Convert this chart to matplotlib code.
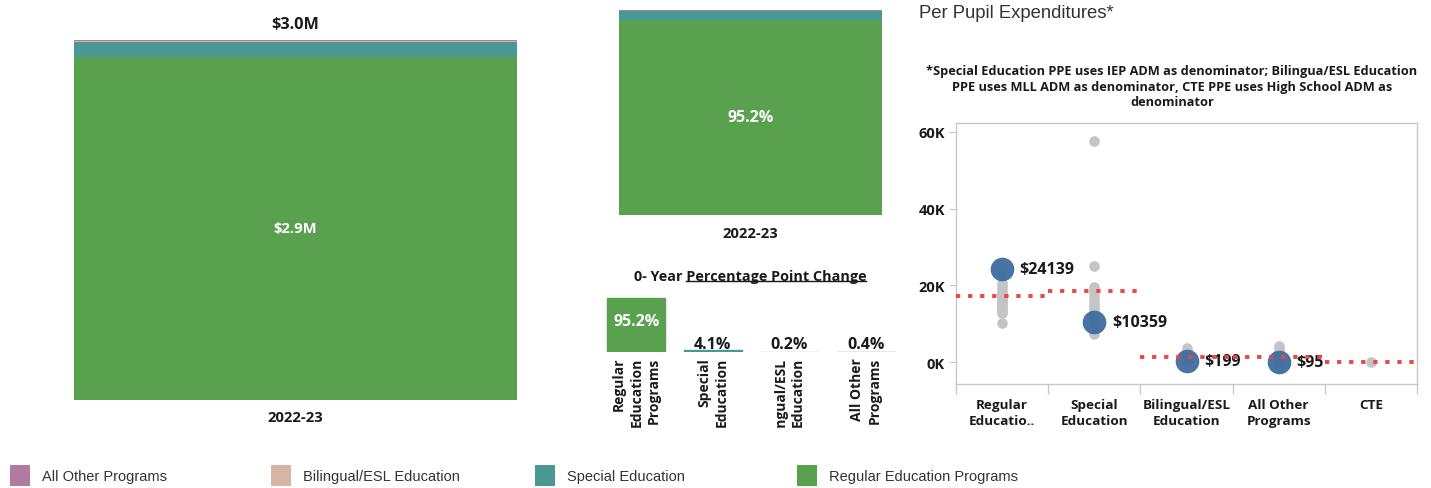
import matplotlib
matplotlib.use("Agg")
import matplotlib.pyplot as plt
from matplotlib.patches import Rectangle
from matplotlib.lines import Line2D

# ---------------- data ----------------
programs = ["Regular Education Programs", "Special Education", "Bilingual/ESL Education", "All Other Programs"]
colors = {"Regular Education Programs": "#59a14f", "Special Education": "#499894",
          "Bilingual/ESL Education": "#d7b5a6", "All Other Programs": "#b07aa1"}
year = "2022-23"
amounts = [2.866e6, 0.124e6, 0.006e6, 0.012e6]          # dollars
shares = [95.2, 4.1, 0.2, 0.4]                           # percent
total_label = "$3.0M"
regular_label = "$2.9M"
change_labels = ["Regular\nEducation\nPrograms", "Special\nEducation", "Bilingual/ESL\nEducation", "All Other\nPrograms"]

ppe_categories = ["Regular\nEducatio..", "Special\nEducation", "Bilingual/ESL\nEducation", "All Other\nPrograms", "CTE"]
ppe_district = [24139, 10359, 199, 95]
ppe_average = [17100, 18400, 1300, 1300, 0]
ppe_peers = [
    [10200, 12800, 13300, 13800, 14300, 14800, 15300, 15800, 16300, 16800, 17300, 17800, 18300, 19000, 19800, 20500, 23000],
    [57500, 25000, 19500, 18700, 18000, 17000, 15800, 15000, 14200, 13300, 12300, 11000, 10000, 9000, 8000, 7200],
    [3600, 3000, 2300, 1500, 800, 300, 0],
    [4300, 3600, 2800, 2000, 1200, 500, 0],
    [0],
]
ppe_yticks = [0, 20000, 40000, 60000]
ppe_yticklabels = ["0K", "20K", "40K", "60K"]

# ---------------- layout helpers ----------------
W, H = 1431, 489
fig = plt.figure(figsize=(W / 100, H / 100), dpi=100)
BF = "Open Sans"
RF = "Liberation Sans"
TXT = "#1a1a1a"

def ax_px(x0, y0, x1, y1):
    return fig.add_axes([x0 / W, 1 - y1 / H, (x1 - x0) / W, (y1 - y0) / H])

def fx(x):
    return x / W

def fy(y):
    return 1 - y / H

def blank(ax):
    for s in ax.spines.values():
        s.set_visible(False)
    ax.set_xticks([])
    ax.set_yticks([])
    ax.patch.set_alpha(0)

# ---------------- left stacked bar (amounts) ----------------
ax1 = ax_px(74, 41, 517, 401)
bottom = 0
for p, v in zip(programs, amounts):
    ax1.bar(0, v, bottom=bottom, width=1.0, color=colors[p], linewidth=0)
    bottom += v
ax1.set_xlim(-0.5, 0.5)
ax1.set_ylim(0, sum(amounts))
blank(ax1)
fig.text(fx(295), fy(25), total_label, ha="center", va="center", fontsize=11.7, fontweight="bold",
         family=BF, color=TXT)
ax1.text(0, amounts[0] / 2, regular_label, ha="center", va="center", fontsize=10.6, fontweight="bold",
         family=BF, color="white")
fig.text(fx(295), fy(418), year, ha="center", va="center", fontsize=10.6, fontweight="bold", family=BF, color=TXT)

# ---------------- middle stacked bar (shares) ----------------
ax2 = ax_px(619, 11, 882, 216)
bottom = 0
for p, v in zip(programs, shares):
    ax2.bar(0, v, bottom=bottom, width=1.0, color=colors[p], linewidth=0)
    bottom += v
ax2.set_xlim(-0.5, 0.5)
ax2.set_ylim(0, sum(shares))
blank(ax2)
ax2.text(0, shares[0] / 2, f"{shares[0]:.1f}%", ha="center", va="center", fontsize=11.5,
         fontweight="bold", family=BF, color="white")
fig.text(fx(750), fy(234), year, ha="center", va="center", fontsize=10.6, fontweight="bold", family=BF, color=TXT)

# ---------------- percentage point change ----------------
title_y = 277
t_full = fig.text(fx(750), fy(title_y), "0- Year Percentage Point Change", ha="center", va="center",
                  fontsize=10.4, fontweight="bold", family=BF, color=TXT)
fig.canvas.draw()
r = fig.canvas.get_renderer()
bb_full = t_full.get_window_extent(r)
tmp = fig.text(0, 0, "Percentage Point Change", fontsize=10.4, fontweight="bold", family=BF)
bb_part = tmp.get_window_extent(r)
tmp.remove()
x_right = bb_full.x1
x_left = x_right - bb_part.width
y_line = bb_full.y0 + 2
fig.add_artist(Line2D([x_left / W, x_right / W], [y_line / H, y_line / H], color=TXT, lw=1.0))

ax3 = ax_px(598, 295, 904, 353)
for i, (p, v) in enumerate(zip(programs, shares)):
    ax3.bar(i, v, width=0.76, color=colors[p], edgecolor=colors[p], linewidth=1.0)
ax3.set_xlim(-0.5, 3.5)
ax3.set_ylim(0, 95.2 * 58 / 54)
blank(ax3)
ax3.text(0, shares[0] * 0.57, f"{shares[0]:.1f}%", ha="center", va="center", fontsize=11.5,
         fontweight="bold", family=BF, color="white")
for i in range(1, 4):
    ax3.text(i, 13.5, f"{shares[i]:.1f}%", ha="center", va="center", fontsize=11.5,
             fontweight="bold", family=BF, color=TXT)

ax4 = ax_px(598, 355, 904, 430)
ax4.set_xlim(-0.5, 3.5)
ax4.set_ylim(0, 1)
blank(ax4)
for i, lab in enumerate(change_labels):
    ax4.text(i, 0.96, lab, rotation=90, ha="center", va="top", multialignment="right",
             fontsize=10, fontweight="bold", family=BF, color=TXT, linespacing=1.3, clip_on=True)

# ---------------- per pupil expenditures ----------------
fig.text(fx(919), fy(13), "Per Pupil Expenditures*", ha="left", va="center", fontsize=13.3,
         family=RF, color="#333333")
fig.text(fx(1172), fy(87),
         "*Special Education PPE uses IEP ADM as denominator; Bilingua/ESL Education\n"
         "PPE uses MLL ADM as denominator, CTE PPE uses High School ADM as\n"
         "denominator",
         ha="center", va="center", fontsize=9.2, fontweight="bold", family=BF, color=TXT,
         linespacing=1.3)

ax5 = ax_px(956, 124, 1417, 385)
ymin = -5700
ymax = 62300
for i, vals in enumerate(ppe_peers):
    ax5.scatter([i] * len(vals), vals, s=58, color="#c4c4c4", linewidths=0, zorder=2)
for i, v in enumerate(ppe_district):
    ax5.scatter([i], [v], s=290, color="#3d6d9e", alpha=0.95, linewidths=0, zorder=3)
    ax5.text(i + 0.19, v, f"${v}", ha="left", va="center", fontsize=11.5, fontweight="bold",
             family=BF, color=TXT, zorder=4)
for i, a in enumerate(ppe_average):
    ax5.plot([i - 0.5, i + 0.5], [a, a], color="#e8474a", lw=2.8,
             linestyle=(0, (1.1, 2.0)), solid_capstyle="butt", dash_capstyle="butt", zorder=5,
             clip_on=False)
ax5.set_xlim(-0.5, 4.5)
ax5.set_ylim(ymin, ymax)
for s in ax5.spines.values():
    s.set_color("#c8c8c8")
    s.set_linewidth(1.0)
ax5.set_yticks(ppe_yticks)
ax5.set_yticklabels(ppe_yticklabels)
ax5.tick_params(axis="y", length=5, color="#c8c8c8", pad=3, labelsize=10.5, labelcolor=TXT)
for t in ax5.get_yticklabels():
    t.set_fontweight("bold")
    t.set_family(BF)
ax5.set_xticks(range(5))
ax5.set_xticklabels(ppe_categories)
ax5.set_xticks([i - 0.5 for i in range(6)], minor=True)
ax5.tick_params(axis="x", which="major", length=0, pad=10, labelsize=9.7, labelcolor=TXT)
ax5.tick_params(axis="x", which="minor", length=7, color="#c8c8c8", width=1.0)
for t in ax5.get_xticklabels():
    t.set_fontweight("bold")
    t.set_family(BF)
    t.set_linespacing(1.3)

# ---------------- legend ----------------
legend_order = ["All Other Programs", "Bilingual/ESL Education", "Special Education", "Regular Education Programs"]
legend_x = [10, 271, 535, 797]
for name, x in zip(legend_order, legend_x):
    fig.add_artist(Rectangle((fx(x), fy(487)), 20 / W, 21 / H, transform=fig.transFigure,
                             color=colors[name], linewidth=0))
    fig.text(fx(x + 32), fy(477), name, ha="left", va="center", fontsize=10.5, family=RF, color="#333333")

fig.savefig("out.png", dpi=100)
